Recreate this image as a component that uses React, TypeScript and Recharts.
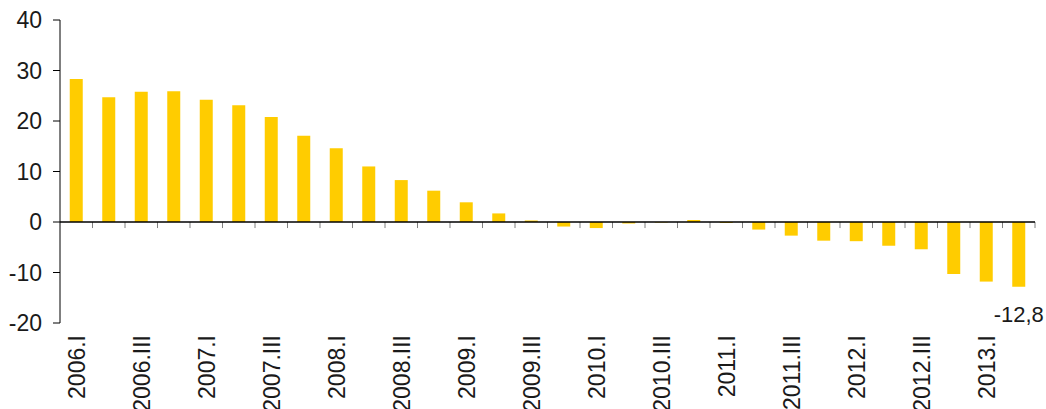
import * as React from "react";
import {
  BarChart,
  Bar,
  XAxis,
  YAxis,
  ReferenceLine,
  LabelList,
} from "recharts";

const years = ["2006", "2007", "2008", "2009", "2010", "2011", "2012", "2013"];
const quarters = ["I", "II", "III", "IV"];
const categories = years
  .flatMap((y) => quarters.map((q) => `${y}.${q}`))
  .slice(0, 30);

const values = [
  28.3, 24.7, 25.8, 25.9, 24.2, 23.1, 20.8, 17.1, 14.6, 11.0,
  8.3, 6.2, 3.9, 1.7, 0.3, -0.9, -1.2, -0.3, -0.1, 0.4,
  -0.2, -1.5, -2.7, -3.7, -3.8, -4.7, -5.4, -10.3, -11.8, -12.8,
];

const yTicks = [-20, -10, 0, 10, 20, 30, 40];

const data = categories.map((name, i) => ({ name, value: values[i] }));
const boundaries = categories.map((_, i) => i + 1);

const FONT = "Arial, 'Liberation Sans', sans-serif";
const BAR_COLOR = "#FFCC00";
const TEXT = "#1a1a1a";

function XTick(props: any) {
  const { x, y, payload } = props;
  return (
    <text
      x={x}
      y={y}
      transform={`rotate(-90, ${x}, ${y})`}
      textAnchor="end"
      dy="0.36em"
      style={{ fontSize: 23, fontFamily: FONT }}
      fill={TEXT}
    >
      {payload.value}
    </text>
  );
}

function YTick(props: any) {
  const { x, y, payload } = props;
  return (
    <text
      x={x}
      y={y}
      textAnchor="end"
      dy="0.36em"
      style={{ fontSize: 23, fontFamily: FONT }}
      fill={TEXT}
    >
      {payload.value}
    </text>
  );
}

function LastLabel(props: any) {
  const { x, y, width, height, value, index } = props;
  if (index !== values.length - 1) return null;
  const bottom = Math.max(y, y + height);
  return (
    <text
      x={x + width / 2}
      y={bottom + 27}
      textAnchor="middle"
      dy="0.36em"
      style={{ fontSize: 22, fontFamily: FONT }}
      fill={TEXT}
    >
      {String(value).replace(".", ",")}
    </text>
  );
}

export default function App() {
  return (
    <div style={{ position: "absolute", left: 0, top: 0, background: "#fff" }}>
      <BarChart
        width={1046}
        height={409}
        data={data}
        margin={{ top: 20, right: 11, left: 0, bottom: 0 }}
        barCategoryGap="30%"
      >
        <XAxis
          dataKey="name"
          xAxisId="cat"
          interval={1}
          height={86}
          axisLine={false}
          tickLine={false}
          tick={<XTick />}
          tickMargin={6}
        />
        <XAxis
          xAxisId="num"
          type="number"
          dataKey={() => 0}
          domain={[0, categories.length]}
          hide
        />
        <YAxis
          domain={[-20, 40]}
          ticks={yTicks}
          width={60}
          tickSize={7}
          tickMargin={11}
          axisLine={{ stroke: "#000", strokeWidth: 1 }}
          tickLine={{ stroke: "#000", strokeWidth: 1 }}
          tick={<YTick />}
          allowDataOverflow
        />
        <Bar
          dataKey="value"
          xAxisId="cat"
          fill={BAR_COLOR}
          isAnimationActive={false}
        >
          <LabelList dataKey="value" content={<LastLabel />} />
        </Bar>
        {boundaries.map((b) => (
          <ReferenceLine
            key={b}
            xAxisId="num"
            segment={[
              { x: b, y: 0 },
              { x: b, y: -1.2 },
            ]}
            stroke="#808080"
            strokeWidth={1}
          />
        ))}
        <ReferenceLine xAxisId="cat" y={0} stroke="#000" strokeWidth={1.3} />
      </BarChart>
    </div>
  );
}
